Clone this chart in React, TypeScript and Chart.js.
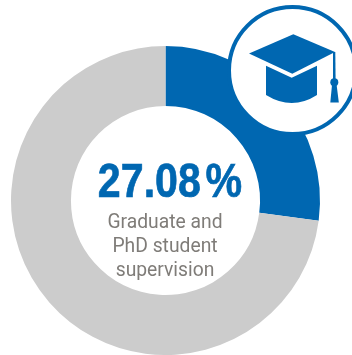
import React, { useEffect, useRef } from "react";
import { Chart, registerables } from "chart.js";

Chart.register(...registerables);

const categories = ["Graduate and PhD student supervision", "Other activities"];
const shareValues = [27.08, 72.92];
const sliceColors = ["#0067b1", "#cccccc"];
const headline = "27.08 %";
const captionLines = ["Graduate and", "PhD student", "supervision"];

const BLUE = "#0067b1";
const CAPTION_GREY = "#7f7c78";

// Badge with a mortarboard, painted above the ring.
function drawBadge(ctx: CanvasRenderingContext2D) {
  ctx.save();
  ctx.beginPath();
  ctx.arc(292.5, 70.5, 63.5, 0, Math.PI * 2);
  ctx.fillStyle = "#ffffff";
  ctx.fill();
  ctx.lineWidth = 4;
  ctx.strokeStyle = BLUE;
  ctx.stroke();

  ctx.fillStyle = BLUE;
  ctx.fill(new Path2D("M249 53.5 L293.3 34.3 L335 52 L292.3 73.7 Z"));
  ctx.fill(new Path2D("M266 65.7 L291.7 77.7 L317 65.7 L317 95 Q292 111 266 95 Z"));
  ctx.fill(new Path2D("M333 52 L335.3 52 L335.6 80 L333 80 Z"));
  ctx.beginPath();
  ctx.arc(334.3, 82.3, 4, 0, Math.PI * 2);
  ctx.fill();
  ctx.fill(new Path2D("M332 85 L336.6 85 L338.8 102.5 L330.3 102.5 Z"));
  ctx.restore();
}

const centerPlugin = {
  id: "centerText",
  afterDraw(chart: Chart) {
    const ctx = chart.ctx;
    drawBadge(ctx);

    // Condensed headline: squeeze a bold sans horizontally around its centre,
    // with a hairline stroke to thicken the stems.
    ctx.save();
    ctx.textAlign = "center";
    ctx.textBaseline = "alphabetic";
    ctx.fillStyle = BLUE;
    ctx.strokeStyle = BLUE;
    ctx.lineWidth = 0.7;
    ctx.font = 'bold 49px "Liberation Sans"';
    (ctx as any).wordSpacing = "-8px";
    ctx.translate(170, 197);
    ctx.scale(0.84, 1);
    ctx.fillText(headline, 0, 0);
    ctx.strokeText(headline, 0, 0);
    ctx.restore();

    ctx.save();
    ctx.textAlign = "center";
    ctx.textBaseline = "alphabetic";
    ctx.fillStyle = CAPTION_GREY;
    ctx.font = "19.3px Roboto";
    captionLines.forEach((line, i) => ctx.fillText(line, 165, 228 + i * 24));
    ctx.restore();
  },
};

export default function App() {
  const ref = useRef<HTMLCanvasElement>(null);
  useEffect(() => {
    const chart = new Chart(ref.current!, {
      type: "doughnut",
      data: {
        labels: categories,
        datasets: [{ data: shareValues, backgroundColor: sliceColors, borderWidth: 0 }],
      },
      options: {
        animation: false,
        responsive: false,
        cutout: "61.2%",
        layout: { padding: { left: 11, right: 32, top: 46, bottom: 0 } },
        plugins: { legend: { display: false }, tooltip: { enabled: false } },
      },
      plugins: [centerPlugin],
    });
    return () => chart.destroy();
  }, []);
  return (
    <div style={{ position: "absolute", left: 0, top: 0, width: 352, height: 355, overflow: "hidden", background: "#fff" }}>
      <canvas ref={ref} width={352} height={355} style={{ display: "block" }} />
    </div>
  );
}
